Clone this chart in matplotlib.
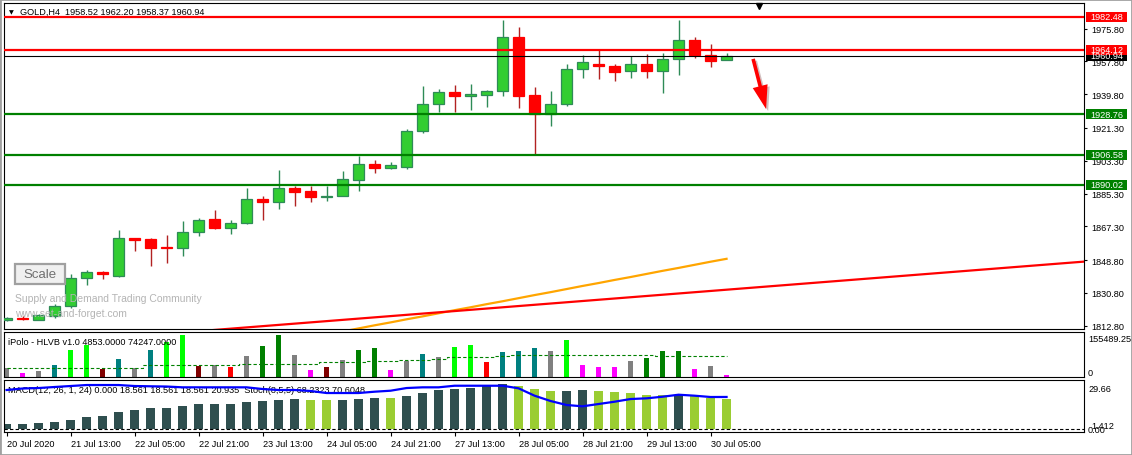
import matplotlib
matplotlib.use('Agg')
import matplotlib.pyplot as plt
import matplotlib.transforms as mtrans
import matplotlib.patheffects as pe
from matplotlib.patches import Rectangle
import numpy as np

W, H = 1132, 456
plt.rcParams['font.family'] = ['Liberation Sans', 'DejaVu Sans']

# ---------------- data ----------------
opens = [1815.75, 1817.18, 1816.08, 1818.28, 1823.43, 1838.80, 1842.42, 1840.23, 1860.75, 1860.37,
         1855.70, 1855.59, 1864.04, 1871.34, 1866.24, 1868.99, 1882.32, 1880.51, 1888.19, 1886.55,
         1883.69, 1884.13, 1893.02, 1901.36, 1899.50, 1900.05, 1919.47, 1934.29, 1940.88, 1939.01,
         1939.67, 1941.43, 1971.06, 1939.23, 1928.97, 1934.29, 1953.50, 1956.24, 1955.15, 1952.40,
         1956.24, 1952.40, 1958.99, 1969.41, 1961.18, 1958.52]
highs = [1817.56, 1818.11, 1819.21, 1824.70, 1841.16, 1843.36, 1842.97, 1865.31, 1860.92, 1860.92,
         1862.73, 1870.08, 1871.89, 1876.28, 1870.80, 1888.36, 1883.80, 1898.24, 1889.62, 1889.62,
         1889.62, 1897.69, 1906.08, 1903.72, 1902.63, 1920.74, 1944.33, 1942.69, 1944.88, 1945.43,
         1942.14, 1980.56, 1976.55, 1943.62, 1941.43, 1956.24, 1961.18, 1963.93, 1956.24, 1960.63,
         1961.73, 1962.28, 1980.56, 1971.06, 1967.22, 1962.20]
lows = [1815.37, 1815.92, 1815.90, 1817.18, 1822.50, 1835.12, 1838.42, 1839.68, 1853.95, 1845.72,
        1847.03, 1851.20, 1862.18, 1865.86, 1863.11, 1868.60, 1870.80, 1877.11, 1878.64, 1880.84,
        1881.39, 1883.97, 1886.88, 1896.86, 1898.95, 1898.95, 1918.71, 1930.23, 1930.23, 1931.33,
        1932.97, 1939.01, 1932.43, 1907.02, 1922.22, 1933.52, 1948.89, 1948.34, 1947.24, 1948.89,
        1948.89, 1940.66, 1950.54, 1959.87, 1954.93, 1958.37]
closes = [1817.01, 1816.46, 1818.66, 1823.43, 1838.80, 1842.09, 1841.00, 1860.75, 1859.82, 1855.59,
          1855.48, 1864.04, 1870.63, 1866.24, 1868.99, 1882.32, 1880.51, 1888.19, 1886.33, 1883.58,
          1884.24, 1893.13, 1901.36, 1899.50, 1900.81, 1919.47, 1934.29, 1940.88, 1939.01, 1939.94,
          1941.43, 1971.06, 1939.01, 1928.97, 1934.29, 1953.50, 1957.34, 1955.15, 1952.18, 1956.24,
          1952.40, 1958.99, 1969.41, 1961.18, 1957.89, 1960.94]

ma_start = 21
ma_values = [1809.6, 1811.3, 1813.0, 1814.6, 1816.3, 1817.9, 1819.6, 1821.3, 1822.9, 1824.6,
             1826.2, 1827.9, 1829.6, 1831.2, 1832.9, 1834.6, 1836.2, 1837.9, 1839.5, 1841.2,
             1842.9, 1844.5, 1846.2, 1847.9, 1849.5]

trend_x = [10.0, 67.4]
trend_y = [1808.4, 1848.0]

levels_red = [1982.48, 1964.12]
levels_green = [1928.76, 1906.58, 1890.02]
current_price = 1960.94

price_ticks = [1975.80, 1957.80, 1939.80, 1921.30, 1903.30, 1885.30, 1867.30, 1848.80, 1830.80, 1812.80]

volumes = [30750, 14140, 20150, 41360, 94380, 112060, 27220, 62570, 30750, 94380,
           121600, 147410, 37820, 42420, 34290, 73170, 108520, 147410, 76710, 23680,
           34290, 59030, 94380, 101450, 23680, 55500, 80240, 68580, 104990, 112060,
           51960, 87310, 90850, 101450, 90850, 129730, 41360, 34290, 34290, 55500,
           66100, 90850, 90850, 27220, 37820, 4853]
vol_colors = ['#808080', '#FF00FF', '#808080', '#008080', '#00FF00', '#00FF00', '#800000', '#008080', '#808080', '#008080',
              '#00FF00', '#00FF00', '#800000', '#808080', '#FF0000', '#808080', '#008000', '#008000', '#808080', '#FF00FF',
              '#800000', '#808080', '#008000', '#008000', '#FF00FF', '#808080', '#008080', '#808080', '#00FF00', '#00FF00',
              '#FF0000', '#008080', '#008080', '#008080', '#808080', '#00FF00', '#FF00FF', '#FF00FF', '#FF00FF', '#808080',
              '#008000', '#008000', '#008000', '#FF00FF', '#808080', '#FF00FF']
vol_avg = [32000, 32000, 32000, 32000, 32000, 32000, 32000, 32000, 32000, 40000,
           40000, 40000, 40000, 40000, 40000, 45000, 45000, 45000, 45000, 45000,
           51000, 51000, 51000, 54000, 56000, 60000, 60000, 64000, 68000, 68000,
           70000, 74000, 76000, 76000, 76000, 76000, 76000, 76000, 76000, 76000,
           76000, 74247, 74247, 74247, 74247, 74247]

macd = [3.64, 3.64, 4.37, 5.10, 6.56, 8.75, 9.47, 12.39, 13.85, 15.30,
        15.30, 16.76, 18.22, 18.22, 18.22, 19.68, 20.41, 21.14, 21.86, 21.14,
        21.14, 21.14, 21.86, 22.59, 22.59, 24.05, 26.24, 28.42, 29.15, 29.88,
        31.34, 32.80, 31.34, 29.15, 27.69, 27.69, 28.42, 27.69, 26.97, 26.24,
        24.78, 24.78, 24.78, 24.78, 22.59, 21.86]
macd_light = [19, 20, 24, 32, 33, 34, 37, 38, 39, 40, 41, 43, 44, 45]
stoch = [83.0, 86.2, 87.2, 89.4, 91.5, 93.6, 93.6, 93.6, 91.5, 90.9,
         90.4, 88.7, 88.7, 88.7, 88.7, 88.7, 85.1, 83.0, 83.0, 80.9,
         76.6, 76.6, 76.6, 79.4, 81.5, 87.2, 88.7, 88.7, 92.1, 92.1,
         92.1, 92.1, 86.6, 70.9, 59.6, 51.1, 48.3, 53.2, 58.1, 63.8,
         65.3, 68.7, 73.0, 70.9, 68.1, 68.2]

time_tick_bars = [0, 4, 8, 12, 16, 20, 24, 28, 32, 36, 40, 44]
time_labels = ['20 Jul 2020', '21 Jul 13:00', '22 Jul 05:00', '22 Jul 21:00', '23 Jul 13:00', '24 Jul 05:00',
               '24 Jul 21:00', '27 Jul 13:00', '28 Jul 05:00', '28 Jul 21:00', '29 Jul 13:00', '30 Jul 05:00']

arrow_start = (46.66, 1959.2)
arrow_end = (47.47, 1931.7)

# ---------------- figure ----------------
fig = plt.figure(figsize=(W / 100, H / 100), dpi=100)
fig.patch.set_facecolor('white')


def fx(px):
    return px / W


def fy(py):
    return 1 - py / H


L, R = 4, 1084
ax = fig.add_axes([fx(L), fy(330), (R - L) / W, (330 - 4) / H])
axv = fig.add_axes([fx(L), fy(378.3), (R - L) / W, (378.3 - 332.7) / H])
axm = fig.add_axes([fx(L), fy(433.3), (R - L) / W, (433.3 - 381) / H])

n = len(opens)
x = np.arange(n)
o = np.array(opens); c = np.array(closes); hi = np.array(highs); lo = np.array(lows)
up = c >= o
XL = (-0.16, 67.34)
FS = 6.6

for a in (ax, axv, axm):
    a.set_xlim(*XL)
    for s in a.spines.values():
        s.set_color('black')
        s.set_linewidth(0.8)

# ---- main chart ----
ax.set_ylim(1810.98, 1989.89)
wick_col = np.where(up, '#2E8B57', '#B22222')
ax.vlines(x, lo, hi, colors=wick_col, linewidth=1.0, zorder=2)
body_lo = np.minimum(o, c)
body_h = np.maximum(np.abs(c - o), 0.35)
ax.bar(x, body_h, bottom=body_lo, width=0.64,
       color=np.where(up, '#32CD32', '#FF0000'),
       edgecolor=np.where(up, '#2E8B57', '#FF0000'), linewidth=0.9, zorder=3)

ax.plot(np.arange(ma_start, ma_start + len(ma_values)), ma_values, color='#FFA500', lw=1.6, zorder=2)
ax.plot(trend_x, trend_y, color='#FF0000', lw=1.6, zorder=2)

for lv in levels_red:
    ax.axhline(lv, color='#FF0000', lw=1.6, zorder=4)
for lv in levels_green:
    ax.axhline(lv, color='#008000', lw=1.6, zorder=4)
ax.axhline(current_price, color='black', lw=0.8, zorder=4)

ax.yaxis.tick_right()
ax.set_yticks(price_ticks)
ax.set_yticklabels(['%.2f' % t for t in price_ticks])
ax.tick_params(axis='y', length=2.5, width=0.8, labelsize=FS, pad=2.5, direction='out')
ax.set_xticks([])

# price boxes
btr = mtrans.blended_transform_factory(ax.transAxes, ax.transData)
box_h = 10 / 1.822
for lv, col in [(levels_green[2], '#008000'), (levels_green[1], '#008000'), (levels_green[0], '#008000'),
                (current_price, '#000000'), (levels_red[1], '#FF0000'), (levels_red[0], '#FF0000')]:
    ax.add_patch(Rectangle((1.0019, lv - box_h / 2), 0.038, box_h, transform=btr,
                           facecolor=col, edgecolor='none', clip_on=False, zorder=6))
    ax.text(1.0208, lv, '%.2f' % lv, transform=btr, ha='center', va='center',
            color='white', fontsize=FS, clip_on=False, zorder=7)

# arrow
ax.annotate('', xy=arrow_end, xytext=arrow_start,
            arrowprops=dict(arrowstyle='simple,head_width=1.1,head_length=1.7,tail_width=0.26',
                            mutation_scale=10, color='#FF0000', lw=0, shrinkA=0, shrinkB=0,
                            path_effects=[pe.SimplePatchShadow(offset=(1.5, -1.5), alpha=0.25), pe.Normal()]),
            zorder=6)

# chart shift marker
ax.plot([47.0], [0.991], marker='v', color='black', markersize=4.5,
        transform=mtrans.blended_transform_factory(ax.transData, ax.transAxes), clip_on=False, zorder=7)

# header
fig.text(fx(8.5), fy(12.3), '▼', fontsize=4.5, va='center', ha='left', family='DejaVu Sans')
fig.text(fx(20), fy(12.3), 'GOLD,H4  %.2f %.2f %.2f %.2f' % (opens[-1], highs[-1], lows[-1], closes[-1]),
         fontsize=FS, va='center', ha='left')

# scale button and watermark
fig.patches.append(Rectangle((fx(15), fy(284.5)), 50 / W, 19.5 / H, transform=fig.transFigure,
                             facecolor='#f0f0f0', edgecolor='#a0a0a0', lw=1.6, zorder=5))
fig.text(fx(40), fy(275), 'Scale', fontsize=9.5, color='#707070', ha='center', va='center', zorder=6)
fig.text(fx(15), fy(299), 'Supply and Demand Trading Community', fontsize=7.45, color='#b4b4b4',
         ha='left', va='center')
fig.text(fx(15), fy(313.7), 'www.set-and-forget.com', fontsize=7.45, color='#b4b4b4',
         ha='left', va='center')

# ---- volume panel ----
axv.set_ylim(-2121, 159075)
axv.bar(x, volumes, width=0.32, color=vol_colors, zorder=2)
axv.plot(x, vol_avg, color='#008000', lw=0.8, ls=(0, (3, 2)), drawstyle='steps-mid', zorder=3)
axv.set_xticks([]); axv.set_yticks([])
fig.text(fx(8), fy(342.3), 'iPolo - HLVB v1.0 %.4f %.4f' % (volumes[-1], vol_avg[-1]),
         fontsize=FS, ha='left', va='center')
fig.text(fx(1088), fy(340), '155489.25', fontsize=FS, ha='left', va='center')
fig.text(fx(1088), fy(373), '0', fontsize=FS, ha='left', va='center')

# ---- MACD panel ----
axm.set_ylim(-2.4, 35.7)
mcols = ['#9ACD32' if i in macd_light else '#2F4F4F' for i in range(n)]
axm.bar(x, macd, width=0.6, color=mcols, zorder=2)
axm.axhline(0, color='black', lw=0.8, ls=(0, (3, 2)), zorder=3)
axm.set_yticks([])
axm.text((8 - L) / (R - L), (433.3 - 390.3) / 52.3,
         'MACD(12, 26, 1, 24) 0.000 18.561 18.561 18.561 20.935  Stoch(8,5,5) 68.2323 70.6048',
         transform=axm.transAxes, fontsize=FS, ha='left', va='center', zorder=1)
axs = axm.twinx()
axs.set_ylim(-7.0, 104.3)
axs.set_xlim(*XL)
axs.plot(x, stoch, color='#0000FF', lw=1.6, zorder=5)
axs.set_yticks([])
for s in axs.spines.values():
    s.set_visible(False)
fig.text(fx(1088), fy(389.3), '29.66', fontsize=FS, ha='left', va='center')
fig.text(fx(1091), fy(426.5), '1.412', fontsize=FS, ha='left', va='center')
fig.text(fx(1088), fy(430.5), '0.00', fontsize=FS, ha='left', va='center')

axm.set_xticks(time_tick_bars)
axm.set_xticklabels(time_labels, ha='left')
axm.tick_params(axis='x', length=3, width=0.8, labelsize=FS, pad=1.5, direction='out')

# outer frame
fig.patches.append(Rectangle((0, 0), 1, 1, transform=fig.transFigure, facecolor='none',
                             edgecolor='#a0a0a0', lw=2.0, zorder=10))

fig.savefig('out.png', dpi=100)
